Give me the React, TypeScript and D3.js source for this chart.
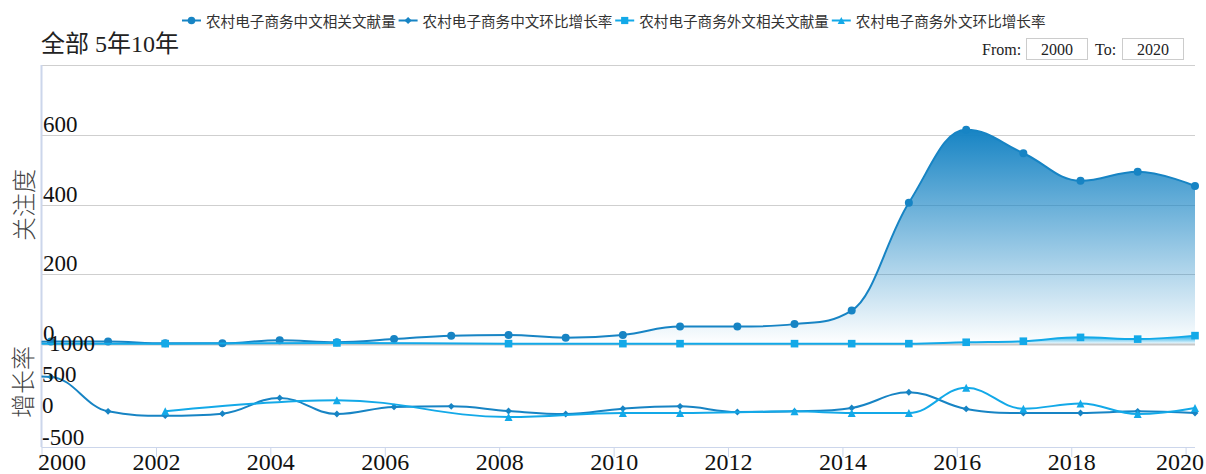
import React, { useEffect, useRef } from 'react';
import * as d3 from 'd3';

// ---- data ----
const years = [1999, 2000, 2001, 2002, 2003, 2004, 2005, 2006, 2007, 2008, 2009, 2010,
  2011, 2012, 2013, 2014, 2015, 2016, 2017, 2018, 2019, 2020];

// 农村电子商务中文相关文献量
const cnCount = [1, 7, 7, 2, 2, 11, 5, 14, 24, 26, 18, 26, 50, 50, 57, 96, 405, 614, 547, 468, 494, 453];
// 农村电子商务中文环比增长率
const cnGrowth = [580, 563, 13, -56, -24, 228, -29, 84, 93, 19, -29, 56, 93, 3, 13, 68, 318, 51, -13, -13, 13, -13];
// 农村电子商务外文相关文献量
const fnCount: (number | null)[] = [1, null, null, 1, null, null, 3, null, null, 1, null, 1, 1, null, 1, 1, 1, 5, 8, 19, 14, 24];
// 农村电子商务外文环比增长率
const fnGrowth: (number | null)[] = [null, null, null, 13, null, null, 190, null, null, -77, null, -13, -13, null, 13, -13, -13, 389, 56, 137, -29, 68];

const seriesNames = ['农村电子商务中文相关文献量', '农村电子商务中文环比增长率', '农村电子商务外文相关文献量', '农村电子商务外文环比增长率'];
const topTicks = [0, 200, 400, 600, 800];
const bottomTicks = [-500, 0, 500, 1000];

const DARK = '#1784c4';
const LIGHT = '#13a9e8';
const NUM_FONT = '"Liberation Serif", "Times New Roman", "Noto Sans CJK SC", serif';
const CJK_FONT = '"Noto Sans CJK SC", sans-serif';

const plot = { left: 41.5, right: 1195, top: 65, mid: 344, bottom: 447 };

type Pt = [number, number];

// spline like the original chart (smoothing 1.5, no false extremes)
function splinePath(pts: Pt[]) {
  const path = d3.path();
  const sm = 1.5, den = sm + 1;
  const rc: (Pt | null)[] = [];
  pts.forEach(([x, y], i) => {
    if (i === 0) { path.moveTo(x, y); rc.push(null); return; }
    const [lx, ly] = pts[i - 1];
    let lcx = x, lcy = y;
    const next = pts[i + 1];
    if (next) {
      const [nx, ny] = next;
      lcx = (sm * x + lx) / den; lcy = (sm * y + ly) / den;
      const rcx = (sm * x + nx) / den;
      let rcy = (sm * y + ny) / den;
      let corr = 0;
      if (rcx !== lcx) corr = ((rcy - lcy) * (rcx - x)) / (rcx - lcx) + y - rcy;
      lcy += corr; rcy += corr;
      if (lcy > ly && lcy > y) { lcy = Math.max(ly, y); rcy = 2 * y - lcy; }
      else if (lcy < ly && lcy < y) { lcy = Math.min(ly, y); rcy = 2 * y - lcy; }
      if (rcy > ny && rcy > y) { rcy = Math.max(ny, y); lcy = 2 * y - rcy; }
      else if (rcy < ny && rcy < y) { rcy = Math.min(ny, y); lcy = 2 * y - rcy; }
      rc.push([rcx, rcy]);
    } else rc.push(null);
    const prev = rc[i - 1] || [lx, ly];
    path.bezierCurveTo(prev[0], prev[1], lcx, lcy, x, y);
  });
  return path.toString();
}

function markerPath(kind: string, r: number) {
  if (kind === 'circle') return d3.symbol(d3.symbolCircle, Math.PI * r * r)()!;
  if (kind === 'square') return `M${-r},${-r}H${r}V${r}H${-r}Z`;
  if (kind === 'diamond') return `M0,${-r}L${r},0L0,${r}L${-r},0Z`;
  return `M0,${-r}L${r},${r}L${-r},${r}Z`;
}

export default function App() {
  const svgRef = useRef<SVGSVGElement>(null);

  useEffect(() => {
    if (!svgRef.current) return;
    const svg = d3.select(svgRef.current);
    svg.selectAll('*').remove();

    const dates = years.map((y) => new Date(Date.UTC(y, 2, 1)));
    const x = d3.scaleUtc()
      .domain([new Date(Date.UTC(2000, 0, 1)), new Date(Date.UTC(2020, 2, 1))])
      .range([plot.left, plot.right]);
    const yTop = d3.scaleLinear().domain([0, 800]).range([plot.mid, plot.top]);
    const yBot = d3.scaleLinear().domain([-500, 1000]).range([443.5, 349.5]);

    const defs = svg.append('defs');
    [['gradDark', DARK], ['gradLight', LIGHT]].forEach(([id, c]) => {
      const g = defs.append('linearGradient').attr('id', id)
        .attr('x1', 0).attr('y1', 0).attr('x2', 0).attr('y2', 1);
      g.append('stop').attr('offset', '0%').attr('stop-color', c).attr('stop-opacity', 1);
      g.append('stop').attr('offset', '100%').attr('stop-color', c).attr('stop-opacity', 0);
    });
    defs.append('clipPath').attr('id', 'clipTop').append('rect')
      .attr('x', plot.left).attr('y', plot.top - 5)
      .attr('width', plot.right - plot.left + 2).attr('height', plot.mid - plot.top + 6);
    defs.append('clipPath').attr('id', 'clipBot').append('rect')
      .attr('x', plot.left).attr('y', plot.mid + 1)
      .attr('width', plot.right - plot.left + 2).attr('height', plot.bottom - plot.mid);

    // gridlines (top panel)
    svg.append('g').selectAll('line').data(topTicks).enter().append('line')
      .attr('x1', plot.left).attr('x2', plot.right)
      .attr('y1', (d) => Math.round(yTop(d)) + 0.5).attr('y2', (d) => Math.round(yTop(d)) + 0.5)
      .attr('stroke', (d) => (d === 0 ? '#c8c8c8' : '#cfcfcf'))
      .attr('stroke-width', (d) => (d === 0 ? 2 : 1));

    // axis lines
    svg.append('line').attr('x1', plot.left).attr('x2', plot.left)
      .attr('y1', plot.top).attr('y2', plot.bottom)
      .attr('stroke', '#ccd6eb').attr('stroke-width', 2);

    const xAxis = svg.append('g').attr('transform', `translate(0,${plot.bottom})`)
      .call(d3.axisBottom(x).ticks(d3.utcYear.every(2)).tickSize(10).tickSizeOuter(0)
        .tickFormat((d) => d3.utcFormat('%Y')(d as Date)));
    xAxis.select('.domain').attr('stroke', '#ccd6eb').attr('d', `M${plot.left},0.5H${plot.right}`);
    xAxis.selectAll('.tick line').attr('stroke', '#ccd6eb');
    xAxis.selectAll('.tick text')
      .attr('y', 23).attr('dy', 0)
      .style('font-family', NUM_FONT).style('font-size', '24px').attr('fill', '#111');
    const tickTexts = xAxis.selectAll<SVGTextElement, Date>('.tick text').nodes();
    d3.select(tickTexts[0]).attr('text-anchor', 'start').attr('x', -4);
    d3.select(tickTexts[tickTexts.length - 1]).attr('text-anchor', 'end').attr('x', 18);

    const toPts = (vals: (number | null)[], ys: d3.ScaleLinear<number, number>) =>
      vals.map((v, i) => (v == null ? null : ([x(dates[i]), ys(v)] as Pt)))
        .filter((p): p is Pt => p !== null);

    const drawSeries = (vals: (number | null)[], ys: d3.ScaleLinear<number, number>, color: string,
      marker: string, r: number, clip: string, grad?: string) => {
      const pts = toPts(vals, ys);
      const g = svg.append('g');
      const lineG = g.append('g').attr('clip-path', `url(#${clip})`);
      const d = splinePath(pts);
      if (grad) {
        const base = ys(0);
        lineG.append('path')
          .attr('d', `${d}L${pts[pts.length - 1][0]},${base}L${pts[0][0]},${base}Z`)
          .attr('fill', `url(#${grad})`);
      }
      lineG.append('path').attr('d', d).attr('fill', 'none')
        .attr('stroke', color).attr('stroke-width', 2).attr('stroke-linejoin', 'round');
      g.append('g').selectAll('path').data(pts.filter((p) => p[0] >= plot.left)).enter().append('path')
        .attr('transform', (p) => `translate(${p[0]},${p[1]})`)
        .attr('d', markerPath(marker, r)).attr('fill', color);
    };

    drawSeries(cnCount, yTop, DARK, 'circle', 4, 'clipTop', 'gradDark');
    drawSeries(fnCount, yTop, LIGHT, 'square', 3.8, 'clipTop', 'gradLight');
    drawSeries(cnGrowth, yBot, DARK, 'diamond', 3.4, 'clipBot');
    drawSeries(fnGrowth, yBot, LIGHT, 'triangle', 4, 'clipBot');

    // y labels
    svg.append('g').selectAll('text').data(topTicks.filter((t) => t < 800)).enter().append('text')
      .attr('x', 43).attr('y', (d) => yTop(d) - 3)
      .style('font-family', NUM_FONT).style('font-size', '23px').attr('fill', '#111')
      .text((d) => d);
    svg.append('g').selectAll('text').data(bottomTicks).enter().append('text')
      .attr('x', (d) => (d === 1000 ? 49 : 42)).attr('y', (d) => yBot(d) + 1)
      .style('font-family', NUM_FONT).style('font-size', '23px').attr('fill', '#111')
      .text((d) => d);

    // axis titles
    svg.append('text').attr('transform', 'translate(22,205) rotate(-90)')
      .attr('text-anchor', 'middle').attr('dominant-baseline', 'central')
      .style('font-family', CJK_FONT).style('font-size', '24px').style('font-weight', 300)
      .attr('fill', '#444').text('关注度');
    svg.append('text').attr('transform', 'translate(21,382) rotate(-90)')
      .attr('text-anchor', 'middle').attr('dominant-baseline', 'central')
      .style('font-family', CJK_FONT).style('font-size', '24px').style('font-weight', 300)
      .attr('fill', '#444').text('增长率');

    // legend
    const markers = ['circle', 'diamond', 'square', 'triangle'];
    const legendColors = [DARK, DARK, LIGHT, LIGHT];
    const legend = svg.append('g').selectAll('g').data(seriesNames).enter().append('g')
      .attr('transform', (_, i) => `translate(${182 + i * 216.6},20.5)`);
    legend.append('line').attr('x1', 0).attr('x2', 19).attr('y1', 0).attr('y2', 0)
      .attr('stroke', (_, i) => legendColors[i]).attr('stroke-width', 2);
    legend.append('path').attr('transform', 'translate(9.5,0)')
      .attr('d', (_, i) => markerPath(markers[i], i === 0 ? 3.8 : 3.6))
      .attr('fill', (_, i) => legendColors[i]);
    legend.append('text').attr('x', 24).attr('dominant-baseline', 'central')
      .style('font-family', CJK_FONT).style('font-size', '14.6px').attr('fill', '#333')
      .text((d) => d);

    // range selector
    svg.append('text').attr('x', 41).attr('y', 52)
      .style('font-family', NUM_FONT).style('font-size', '24px').attr('fill', '#222')
      .text('全部 5年10年');
    svg.append('text').attr('x', 982).attr('y', 55)
      .style('font-family', NUM_FONT).style('font-size', '16px').attr('fill', '#222').text('From:');
    svg.append('text').attr('x', 1095).attr('y', 55)
      .style('font-family', NUM_FONT).style('font-size', '16px').attr('fill', '#222').text('To:');
    [[1026.5, '2000'], [1122.5, '2020']].forEach(([bx, label]) => {
      svg.append('rect').attr('x', bx as number).attr('y', 38.5).attr('width', 61).attr('height', 21)
        .attr('fill', '#fff').attr('stroke', '#ccc');
      svg.append('text').attr('x', (bx as number) + 30.5).attr('y', 55).attr('text-anchor', 'middle')
        .style('font-family', NUM_FONT).style('font-size', '16px').attr('fill', '#222').text(label as string);
    });
  }, []);

  return (
    <svg ref={svgRef} width={1206} height={474}
      style={{ position: 'absolute', left: 0, top: 0, background: '#fff' }} />
  );
}
